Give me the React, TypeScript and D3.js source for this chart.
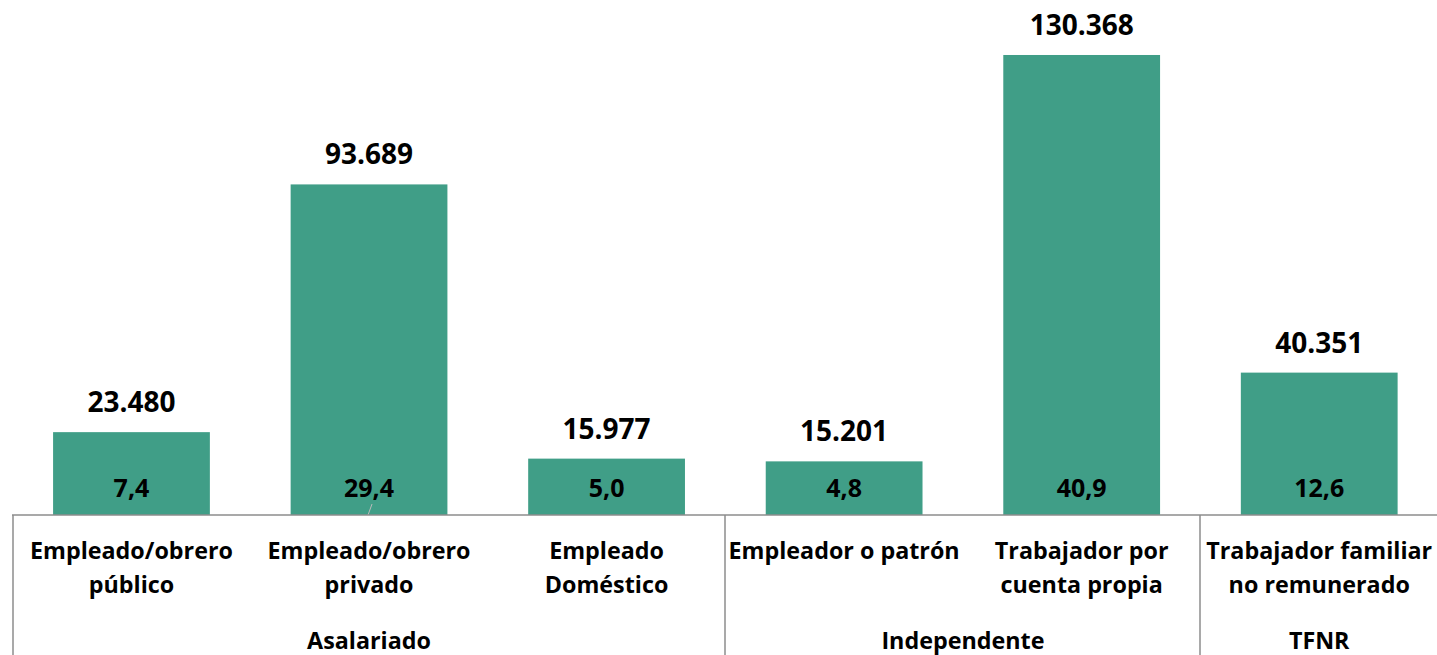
import React from "react";
import * as d3 from "d3";

const categories = [
  ["Empleado/obrero", "público"],
  ["Empleado/obrero", "privado"],
  ["Empleado", "Doméstico"],
  ["Empleador o patrón"],
  ["Trabajador por", "cuenta propia"],
  ["Trabajador familiar", "no remunerado"],
];
const values = [23480, 93689, 15977, 15201, 130368, 40351];
const valueLabels = ["23.480", "93.689", "15.977", "15.201", "130.368", "40.351"];
const percentLabels = ["7,4", "29,4", "5,0", "4,8", "40,9", "12,6"];
const groups = [
  { name: "Asalariado", start: 0, end: 3 },
  { name: "Independente", start: 3, end: 5 },
  { name: "TFNR", start: 5, end: 6 },
];

const W = 1437;
const H = 655;
const baseY = 515;
const font = "'Open Sans', sans-serif";
const color = "#409E87";

export default function App() {
  const x = d3
    .scaleBand<number>()
    .domain(d3.range(values.length))
    .range([12.7, 1438])
    .paddingInner(0.34)
    .paddingOuter(0.17);
  const y = d3.scaleLinear().domain([0, 140000]).range([baseY, 21]);
  const step = x.step();
  const left = 12.7;
  const edge = (i: number) => left + i * step;

  return (
    <svg
      width={W}
      height={H}
      style={{ position: "absolute", left: 0, top: 0, background: "#fff" }}
      fontFamily={font}
    >
      {values.map((v, i) => {
        const bx = x(i)!;
        const cx = bx + x.bandwidth() / 2;
        return (
          <g key={i}>
            <rect x={bx} y={y(v)} width={x.bandwidth()} height={baseY - y(v)} fill={color} />
            <text x={cx} y={y(v) - 20} textAnchor="middle" fontWeight="bold" fontSize={28} fill="#000">
              {valueLabels[i]}
            </text>
            <text x={cx} y={497} textAnchor="middle" fontWeight="bold" fontSize={25} fill="#000">
              {percentLabels[i]}
            </text>
            {categories[i].map((line, j) => (
              <text
                key={j}
                x={cx}
                y={559 + j * 34}
                textAnchor="middle"
                fontWeight="bold"
                fontSize={23.3}
                fill="#000"
              >
                {line}
              </text>
            ))}
          </g>
        );
      })}
      <line
        x1={x(1)! + x.bandwidth() / 2 + 3}
        y1={504}
        x2={x(1)! + x.bandwidth() / 2 - 1}
        y2={515}
        stroke="#bbb"
        strokeWidth={1}
      />
      <line x1={12} y1={baseY} x2={W} y2={baseY} stroke="#8c8c8c" strokeWidth={1.5} />
      {[0, 3, 5].map((i) => (
        <line key={i} x1={Math.round(edge(i))} y1={baseY} x2={Math.round(edge(i))} y2={H} stroke="#8c8c8c" strokeWidth={1.5} />
      ))}
      {groups.map((g) => (
        <text
          key={g.name}
          x={(edge(g.start) + edge(g.end)) / 2}
          y={649}
          textAnchor="middle"
          fontWeight="bold"
          fontSize={23.3}
          fill="#000"
        >
          {g.name}
        </text>
      ))}
    </svg>
  );
}
